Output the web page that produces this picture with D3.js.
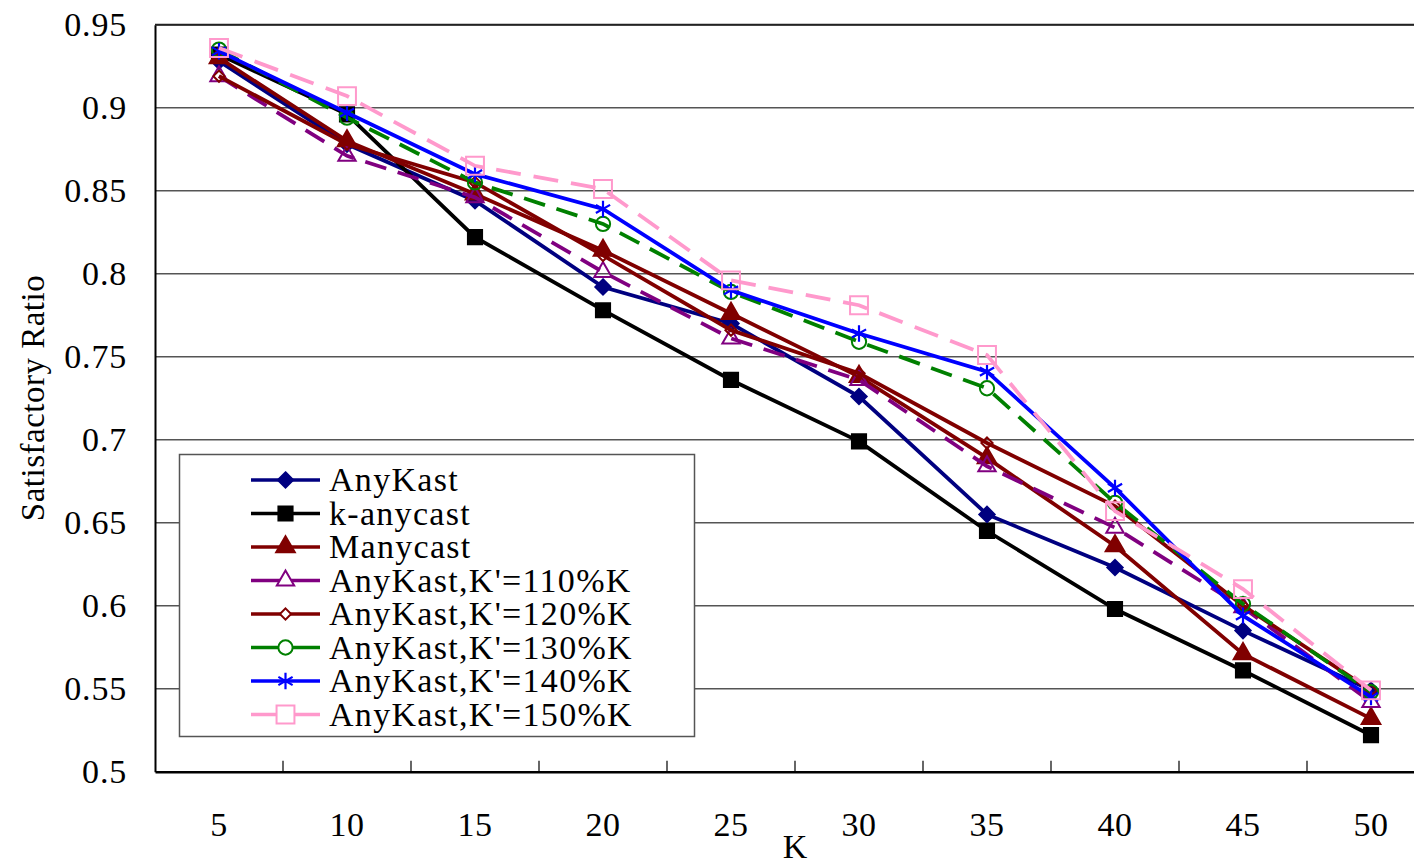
<!DOCTYPE html>
<html>
<head>
<meta charset="utf-8">
<script src="https://cdn.jsdelivr.net/npm/d3@7"></script>
<style>
  body { margin: 0; background: #fff; }
  svg { display: block; font-family: "Liberation Serif", "DejaVu Serif", serif; }
</style>
</head>
<body>
<div id="chart"></div>
<script>
// values
const kValues = [5, 10, 15, 20, 25, 30, 35, 40, 45, 50];
const yTicks = [0.5, 0.55, 0.6, 0.65, 0.7, 0.75, 0.8, 0.85, 0.9, 0.95];

const anyKast    = [0.928, 0.878, 0.844, 0.792, 0.770, 0.726, 0.655, 0.623, 0.585, 0.549];
const kAnycast   = [0.932, 0.896, 0.822, 0.778, 0.736, 0.699, 0.645, 0.598, 0.561, 0.522];
const manycast   = [0.930, 0.880, 0.848, 0.814, 0.776, 0.738, 0.689, 0.636, 0.571, 0.532];
const anyKast110 = [0.919, 0.871, 0.846, 0.801, 0.761, 0.736, 0.684, 0.647, 0.599, 0.542];
const anyKast120 = [0.919, 0.878, 0.855, 0.811, 0.766, 0.740, 0.698, 0.660, 0.600, 0.549];
const anyKast130 = [0.935, 0.894, 0.855, 0.830, 0.789, 0.759, 0.731, 0.662, 0.601, 0.548];
const anyKast140 = [0.934, 0.897, 0.860, 0.839, 0.790, 0.764, 0.741, 0.671, 0.594, 0.545];
const anyKast150 = [0.936, 0.907, 0.865, 0.851, 0.796, 0.781, 0.751, 0.657, 0.610, 0.549];

const seriesNames = ["AnyKast", "k-anycast", "Manycast", "AnyKast,K'=110%K", "AnyKast,K'=120%K",
                     "AnyKast,K'=130%K", "AnyKast,K'=140%K", "AnyKast,K'=150%K"];
const seriesValues = [anyKast, kAnycast, manycast, anyKast110, anyKast120, anyKast130, anyKast140, anyKast150];

// look of each series
const styles = [
  { color: "#000080", symbol: d3.symbolDiamond2, size: 150, filled: true,  dash: null },
  { color: "#000000", symbol: d3.symbolSquare,   size: 200, filled: true,  dash: null },
  { color: "#800000", symbol: d3.symbolTriangle, size: 150, filled: true,  dash: null },
  { color: "#800080", symbol: d3.symbolTriangle, size: 130, filled: false, dash: "22,12" },
  { color: "#800000", symbol: d3.symbolDiamond2, size: 80,  filled: false, dash: null },
  { color: "#008000", symbol: d3.symbolCircle,   size: 160, filled: false, dash: "22,12" },
  { color: "#0000ff", symbol: d3.symbolAsterisk, size: 190, filled: false, dash: null },
  { color: "#ff99cc", symbol: d3.symbolSquare,   size: 320, filled: false, dash: "25,13" }
];

const width = 1414, height = 867;
const margin = { top: 24.7, left: 155, bottom: 95.3 };
const plotRight = 1435; // plot runs past the right edge of the picture

const svg = d3.select("#chart").append("svg")
  .attr("width", width)
  .attr("height", height)
  .style("overflow", "hidden");

const x = d3.scaleBand()
  .domain(kValues)
  .range([margin.left, plotRight]);

const y = d3.scaleLinear()
  .domain([0.5, 0.95])
  .range([height - margin.bottom, margin.top]);

// grid lines
svg.append("g")
  .selectAll("line")
  .data(yTicks.slice(1))
  .join("line")
    .attr("x1", margin.left)
    .attr("x2", plotRight)
    .attr("y1", d => y(d))
    .attr("y2", d => y(d))
    .attr("stroke", "#555")
    .attr("stroke-width", 1.5);

// y axis
const yAxis = svg.append("g")
  .attr("transform", `translate(${margin.left},0)`)
  .call(d3.axisLeft(y).tickValues(yTicks).tickSize(0).tickPadding(28).tickFormat(d3.format("")));
yAxis.select(".domain").attr("stroke", "#000").attr("stroke-width", 2);
yAxis.selectAll("text")
  .attr("font-size", 34)
  .attr("letter-spacing", 0.8)
  .attr("fill", "#000")
  .attr("font-family", "Liberation Serif, serif");

// x axis with inner tick marks between categories
const xAxis = svg.append("g")
  .attr("transform", `translate(0,${y(0.5)})`)
  .call(d3.axisBottom(x).tickSize(0).tickPadding(40));
xAxis.select(".domain").attr("stroke", "#000").attr("stroke-width", 2.5);
xAxis.selectAll("text")
  .attr("font-size", 34)
  .attr("letter-spacing", 0.5)
  .attr("fill", "#000")
  .attr("font-family", "Liberation Serif, serif");

svg.append("g")
  .selectAll("line")
  .data(kValues.slice(1))
  .join("line")
    .attr("x1", d => x(d))
    .attr("x2", d => x(d))
    .attr("y1", y(0.5))
    .attr("y2", y(0.5) - 11)
    .attr("stroke", "#000")
    .attr("stroke-width", 1.2);

// top border
svg.append("line")
  .attr("x1", margin.left).attr("x2", plotRight)
  .attr("y1", y(0.95)).attr("y2", y(0.95))
  .attr("stroke", "#222").attr("stroke-width", 2);

// axis titles
svg.append("text")
  .attr("x", (margin.left + plotRight) / 2)
  .attr("y", 858)
  .attr("text-anchor", "middle")
  .attr("font-size", 34)
  .text("K");

svg.append("text")
  .attr("transform", "translate(44,398) rotate(-90)")
  .attr("text-anchor", "middle")
  .attr("font-size", 33)
  .attr("letter-spacing", 0.5)
  .text("Satisfactory Ratio");

// legend (drawn under the series)
const legend = svg.append("g");
legend.append("rect")
  .attr("x", 179.5).attr("y", 454.5)
  .attr("width", 515).attr("height", 282)
  .attr("fill", "#fff")
  .attr("stroke", "#555")
  .attr("stroke-width", 1.5);

const rowY = i => 480 + i * 33.5;

seriesNames.forEach((name, i) => {
  const s = styles[i];
  const g = legend.append("g");
  g.append("line")
    .attr("x1", 251).attr("x2", 320)
    .attr("y1", rowY(i)).attr("y2", rowY(i))
    .attr("stroke", s.color)
    .attr("stroke-width", 3.6);
  g.append("path")
    .attr("transform", `translate(285.5,${rowY(i)})`)
    .attr("d", d3.symbol(s.symbol, s.size)())
    .attr("fill", s.filled ? s.color : "#fff")
    .attr("stroke", s.color)
    .attr("stroke-width", s.symbol === d3.symbolAsterisk ? 2.2 : 2);
  g.append("text")
    .attr("x", 329)
    .attr("y", rowY(i) + 11)
    .attr("font-size", 34)
    .attr("letter-spacing", 1.3)
    .text(name);
});

// series lines and markers
const line = d3.line()
  .x((d, i) => x(kValues[i]) + x.bandwidth() / 2)
  .y(d => y(d));

seriesValues.forEach((values, i) => {
  const s = styles[i];
  const g = svg.append("g");
  g.append("path")
    .datum(values)
    .attr("d", line)
    .attr("fill", "none")
    .attr("stroke", s.color)
    .attr("stroke-width", 3.8)
    .attr("stroke-dasharray", s.dash);
  g.selectAll("path.mark")
    .data(values)
    .join("path")
      .attr("class", "mark")
      .attr("transform", (d, j) => `translate(${x(kValues[j]) + x.bandwidth() / 2},${y(d)})`)
      .attr("d", d3.symbol(s.symbol, s.size)())
      .attr("fill", s.filled ? s.color : "none")
      .attr("stroke", s.color)
      .attr("stroke-width", s.symbol === d3.symbolAsterisk ? 2.2 : 2);
});
</script>
</body>
</html>
